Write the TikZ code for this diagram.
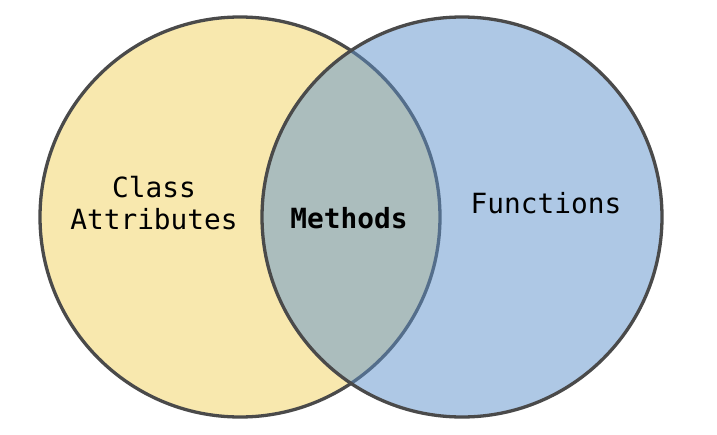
\documentclass[tikz,border=0pt]{standalone}
\usepackage{fontspec}
\setmonofont{DejaVu Sans Mono}
\definecolor{venyellow}{HTML}{F8E8AE}
\definecolor{venblue}{HTML}{5F93CD}
\definecolor{venborder}{HTML}{4A4A4A}
\begin{document}
\begin{tikzpicture}[x=1pt,y=-1pt,
  setcircle/.style={circle,draw=venborder,line width=3.3pt,minimum size=400pt,inner sep=0pt},
  lbl/.style={anchor=base,font=\ttfamily\fontsize{27.8}{32}\selectfont,text=black,inner sep=0pt}]
\useasboundingbox (0,0) rectangle (717,434);
\fill[white] (0,0) rectangle (717,434);
\node[setcircle,fill=venyellow] (left) at (240,217) {};
\node[setcircle,fill=venblue,fill opacity=0.5] (right) at (462,217) {};
\node[lbl] (class) at (154,197) {Class};
\node[lbl] (attr) at (154,229) {Attributes};
\node[lbl,font=\ttfamily\bfseries\fontsize{27.8}{32}\selectfont] (methods) at (349,228) {Methods};
\node[lbl] (functions) at (546,213) {Functions};
\end{tikzpicture}
\end{document}
